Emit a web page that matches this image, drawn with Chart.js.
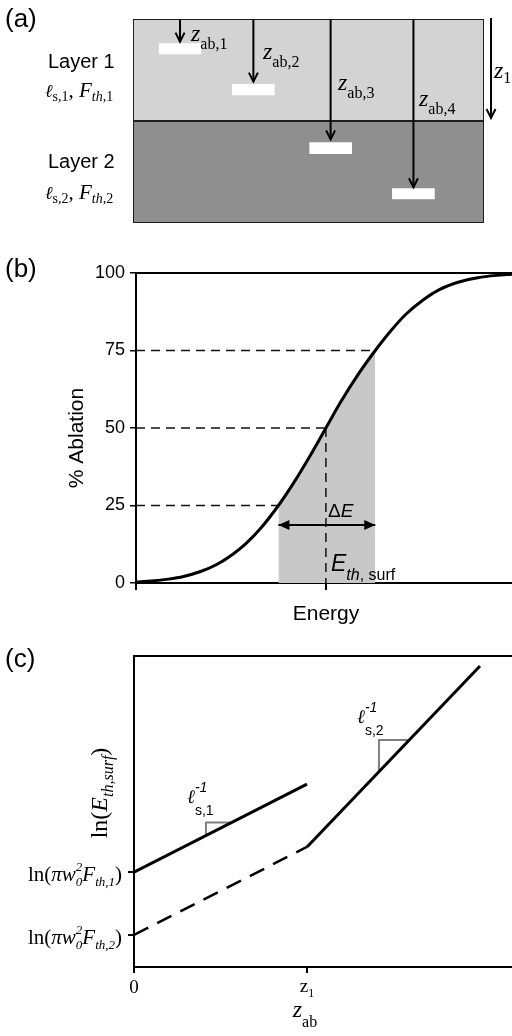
<!DOCTYPE html>
<html>
<head>
<meta charset="utf-8">
<script src="https://cdn.jsdelivr.net/npm/chart.js"></script>
<style>
  html, body { margin: 0; padding: 0; background: #fff; overflow: hidden; width: 512px; height: 1036px; }
  canvas { position: absolute; left: 0; }
</style>
</head>
<body>
<canvas id="chartA" width="512" height="240" style="top:0"></canvas>
<canvas id="chartB" width="512" height="380" style="top:250px"></canvas>
<canvas id="chartC" width="512" height="396" style="top:640px"></canvas>
<script>
// ---- (a) two-layer stack, depth in % of the drawn stack ----
const layerBoundary = 50;          // z1
const stackBottom = 100;
const ablationX = [13.4, 34.3, 56.3, 79.9];
const ablationDepth = [11.1, 30.7, 59.0, 82.5];
const craterTop = [11.9, 31.9, 60.4, 83.0];
const craterBottom = [17.3, 37.4, 66.2, 88.4];
const craterHalfWidth = 6.1;
const z1ArrowX = 102;

// ---- (b) ablation curve ----
const energy = [0, 0.08, 0.17, 0.25, 0.34, 0.42, 0.51, 0.58, 0.66, 0.75, 0.83, 0.92, 1.00,
  1.08, 1.17, 1.26, 1.34, 1.42, 1.51, 1.60, 1.70, 1.80, 1.90, 1.98];
const ablation = [0.35, 0.65, 1.25, 2.1, 3.7, 5.8, 9.3, 12.8, 17.9, 25, 32.3, 41.4, 50,
  58.6, 67.3, 75, 81.2, 86.6, 91.2, 94.7, 97.1, 98.5, 99.25, 99.6];
const yTicksB = [0, 25, 50, 75, 100];
const quartileLevels = [25, 50, 75];
const quartileEnergy = [0.75, 1.00, 1.26];
const eThSurf = 1.00;
const deltaELevel = 18.7;

// ---- (c) ln(E_th,surf) vs z_ab ----
const z1 = 1;
const lnF1 = 3.05, lnF2 = 1.03;
const seg1Z = [0, 1], seg1Ln = [3.05, 5.88];
const seg2Z = [1, 2], seg2Ln = [3.86, 9.68];
const dashZ = [0, 1], dashLn = [1.03, 3.86];
const tri1Z = [0.416, 0.416, 0.566], tri1Ln = [4.23, 4.65, 4.65];
const tri2Z = [1.416, 1.416, 1.59], tri2Ln = [6.28, 7.30, 7.30];

const SANS = '"Liberation Sans", Arial, sans-serif';
const SERIF = '"Liberation Serif", "Times New Roman", serif';
const SCRIPT = '"DejaVu Serif", serif';
const font = (size, fam, style) => (style ? style + ' ' : '') + size + 'px ' + fam;
const pts = (xs, ys) => xs.map((x, i) => ({ x: x, y: ys[i] }));
const NONE = 'rgba(0,0,0,0)';

function drawRich(ctx, item) {
  ctx.save();
  ctx.translate(item.x, item.y);
  if (item.rotate) ctx.rotate(item.rotate);
  ctx.fillStyle = '#000';
  ctx.textBaseline = item.baseline || 'alphabetic';
  ctx.textAlign = 'left';
  let total = 0;
  item.parts.forEach(p => { ctx.font = p.f; p.w = ctx.measureText(p.t).width; if (!p.stay) total += p.w; });
  let x = item.align === 'right' ? -total : item.align === 'center' ? -total / 2 : 0;
  item.parts.forEach(p => {
    ctx.font = p.f;
    ctx.fillText(p.t, x, p.dy || 0);
    if (!p.stay) x += p.w;
  });
  ctx.restore();
}

const textPlugin = items => ({
  id: 'richText',
  afterDraw(chart) { items.forEach(it => drawRich(chart.ctx, it)); }
});

const arrowHeads = {
  id: 'arrowHeads',
  afterDatasetsDraw(chart) {
    const ctx = chart.ctx;
    chart.data.datasets.forEach((ds, i) => {
      if (!ds.arrow) return;
      const p = chart.getDatasetMeta(i).data;
      const heads = [[p[p.length - 1], p[p.length - 2]]];
      if (ds.arrow === 'both') heads.push([p[0], p[1]]);
      heads.forEach(([tip, prev]) => {
        const a = Math.atan2(tip.y - prev.y, tip.x - prev.x);
        const len = ds.headLength, half = ds.headWidth;
        const bx = tip.x - len * Math.cos(a), by = tip.y - len * Math.sin(a);
        const ox = -Math.sin(a) * half, oy = Math.cos(a) * half;
        ctx.save();
        ctx.strokeStyle = ctx.fillStyle = ds.borderColor;
        ctx.lineWidth = ds.borderWidth;
        ctx.beginPath();
        ctx.moveTo(bx + ox, by + oy);
        ctx.lineTo(tip.x, tip.y);
        ctx.lineTo(bx - ox, by - oy);
        if (ds.headFill) { ctx.closePath(); ctx.fill(); } else ctx.stroke();
        ctx.restore();
      });
    });
  }
};

const topBorder = {
  id: 'topBorder',
  afterDatasetsDraw(chart) {
    const { ctx, chartArea: a } = chart;
    ctx.save();
    ctx.strokeStyle = '#000';
    ctx.lineWidth = 2;
    ctx.beginPath();
    ctx.moveTo(a.left - 1, a.top);
    ctx.lineTo(a.right, a.top);
    ctx.stroke();
    ctx.restore();
  }
};

const baseOptions = {
  responsive: false,
  animation: false,
  events: [],
  elements: { point: { radius: 0 }, line: { tension: 0, borderCapStyle: 'butt' } },
  plugins: { legend: { display: false }, tooltip: { enabled: false } }
};

// ---------- (a) ----------
const layerA = [];
layerA.push({ data: pts([0, 100], [0, 0]), fill: { value: layerBoundary }, backgroundColor: '#d3d3d3', borderColor: NONE, borderWidth: 0 });
layerA.push({ data: pts([0, 100], [layerBoundary, layerBoundary]), fill: { value: stackBottom }, backgroundColor: '#8f8f8f', borderColor: NONE, borderWidth: 0 });
ablationX.forEach((x, i) => {
  layerA.push({ data: pts([x - craterHalfWidth, x + craterHalfWidth], [craterTop[i], craterTop[i]]),
    fill: { value: craterBottom[i] }, backgroundColor: '#ffffff', borderColor: NONE, borderWidth: 0 });
});
layerA.push({ data: pts([0, 100, 100, 0, 0], [0, 0, stackBottom, stackBottom, 0]), borderColor: '#1e1e1e', borderWidth: 2, fill: false });
layerA.push({ data: pts([0, 100], [layerBoundary, layerBoundary]), borderColor: '#1e1e1e', borderWidth: 2, fill: false });
ablationX.forEach((x, i) => {
  layerA.push({ data: pts([x, x], [0, ablationDepth[i]]), borderColor: '#000', borderWidth: 2, fill: false,
    arrow: 'end', headLength: 9, headWidth: 4.5 });
});
layerA.push({ data: pts([z1ArrowX, z1ArrowX], [-0.5, layerBoundary - 1.5]), borderColor: '#000', borderWidth: 2, fill: false,
  clip: false, arrow: 'end', headLength: 9, headWidth: 4.5 });

const labelL = n => [
  { t: 'ℓ', f: font(18, SCRIPT, 'italic') },
  { t: 's,' + n, f: font(14, SERIF), dy: 4 },
  { t: ', ', f: font(21, SERIF) },
  { t: 'F', f: font(21, SERIF, 'italic') },
  { t: 'th', f: font(14, SERIF, 'italic'), dy: 4 },
  { t: ',' + n, f: font(14, SERIF), dy: 4 }
];
const zab = n => [{ t: 'z', f: font(24, SERIF, 'italic') }, { t: 'ab,' + n, f: font(16, SERIF), dy: 8 }];
const textA = [
  { x: 5, y: 27, parts: [{ t: '(a)', f: font(26, SANS) }] },
  { x: 48, y: 68, parts: [{ t: 'Layer 1', f: font(20, SANS) }] },
  { x: 45, y: 97, parts: labelL(1) },
  { x: 48, y: 168, parts: [{ t: 'Layer 2', f: font(20, SANS) }] },
  { x: 45, y: 199, parts: labelL(2) },
  { x: 191, y: 41, parts: zab(1) },
  { x: 263, y: 59, parts: zab(2) },
  { x: 338, y: 90, parts: zab(3) },
  { x: 419, y: 106, parts: zab(4) },
  { x: 494, y: 78, parts: [{ t: 'z', f: font(24, SERIF, 'italic') }, { t: '1', f: font(16, SERIF), dy: 5 }] }
];

new Chart(document.getElementById('chartA'), {
  type: 'line',
  data: { datasets: layerA.reverse() },
  options: Object.assign({}, baseOptions, {
    layout: { padding: { left: 133, right: 28, top: 19, bottom: 17 } },
    scales: {
      x: { type: 'linear', min: 0, max: 100, display: false },
      y: { type: 'linear', min: 0, max: stackBottom, reverse: true, display: false }
    }
  }),
  plugins: [arrowHeads, textPlugin(textA)]
});

// ---------- (b) ----------
const e25 = quartileEnergy[0], e75 = quartileEnergy[2];
const shadeIdx = energy.map((e, i) => i).filter(i => energy[i] >= e25 && energy[i] <= e75);
const layerB = [];
layerB.push({ data: shadeIdx.map(i => ({ x: energy[i], y: ablation[i] })), fill: 'origin', backgroundColor: '#c8c8c8',
  borderColor: NONE, borderWidth: 0, cubicInterpolationMode: 'monotone' });
quartileLevels.forEach((lv, i) => {
  layerB.push({ data: pts([0, quartileEnergy[i]], [lv, lv]), borderColor: '#111', borderWidth: 1.5, borderDash: [9, 6], fill: false });
});
layerB.push({ data: pts([eThSurf, eThSurf], [quartileLevels[1], 0]), borderColor: '#111', borderWidth: 1.5, borderDash: [9, 6], fill: false });
layerB.push({ data: pts(energy, ablation), borderColor: '#000', borderWidth: 3, fill: false, cubicInterpolationMode: 'monotone' });
layerB.push({ data: pts([e25, e75], [deltaELevel, deltaELevel]), borderColor: '#000', borderWidth: 2, fill: false,
  arrow: 'both', headFill: true, headLength: 11, headWidth: 5 });

const textB = [
  { x: 5, y: 27, parts: [{ t: '(b)', f: font(26, SANS) }] },
  { x: 77, y: 188, rotate: -Math.PI / 2, align: 'center', baseline: 'middle', parts: [{ t: '% Ablation', f: font(21, SANS) }] },
  { x: 326, y: 370, align: 'center', parts: [{ t: 'Energy', f: font(21, SANS) }] },
  { x: 328, y: 267, parts: [{ t: 'Δ', f: font(19, SANS) }, { t: 'E', f: font(19, SANS, 'italic') }] },
  { x: 331, y: 321, parts: [{ t: 'E', f: font(23, SANS, 'italic') }, { t: 'th', f: font(16, SANS, 'italic'), dy: 9 },
    { t: ', surf', f: font(16, SANS), dy: 9 }] }
];

new Chart(document.getElementById('chartB'), {
  type: 'line',
  data: { datasets: layerB.reverse() },
  options: Object.assign({}, baseOptions, {
    layout: { padding: { left: 0, right: 0, top: 23, bottom: 0 } },
    scales: {
      x: {
        type: 'linear', min: 0, max: energy[energy.length - 1],
        afterBuildTicks: s => { s.ticks = [{ value: 0 }, { value: eThSurf }]; },
        ticks: { display: false },
        grid: { drawOnChartArea: false, tickLength: 7, color: '#000', lineWidth: 2 },
        border: { color: '#000', width: 2 },
        afterFit: s => { s.height = 47; }
      },
      y: {
        type: 'linear', min: 0, max: 100,
        afterBuildTicks: s => { s.ticks = yTicksB.map(v => ({ value: v })); },
        ticks: { color: '#000', font: { family: SANS, size: 18 }, padding: 5 },
        grid: { drawOnChartArea: false, tickLength: 6, color: '#000', lineWidth: 1.5 },
        border: { color: '#000', width: 2 },
        afterFit: s => { s.width = 136; }
      }
    }
  }),
  plugins: [arrowHeads, topBorder, textPlugin(textB)]
});

// ---------- (c) ----------
const layerC = [];
layerC.push({ data: pts(tri1Z, tri1Ln), borderColor: '#7f7f7f', borderWidth: 2, fill: false });
layerC.push({ data: pts(tri2Z, tri2Ln), borderColor: '#7f7f7f', borderWidth: 2, fill: false });
layerC.push({ data: pts(dashZ, dashLn), borderColor: '#000', borderWidth: 2.5, borderDash: [16, 10], fill: false });
layerC.push({ data: pts(seg1Z, seg1Ln), borderColor: '#000', borderWidth: 3, fill: false });
layerC.push({ data: pts(seg2Z, seg2Ln), borderColor: '#000', borderWidth: 3, fill: false });

const lnLabel = n => [
  { t: 'ln(', f: font(21, SERIF) },
  { t: 'π', f: font(21, SERIF, 'italic') },
  { t: 'w', f: font(21, SERIF, 'italic') },
  { t: '2', f: font(13, SERIF, 'italic'), dy: -10, stay: true },
  { t: '0', f: font(13, SERIF, 'italic'), dy: 5 },
  { t: 'F', f: font(21, SERIF, 'italic') },
  { t: 'th,' + n, f: font(13, SERIF, 'italic'), dy: 5 },
  { t: ')', f: font(21, SERIF) }
];
const slopeLabel = n => [
  { t: 'ℓ', f: font(19, SCRIPT, 'italic') },
  { t: '-1', f: font(14, SANS, 'italic'), dy: -11, stay: true },
  { t: 's,' + n, f: font(14, SANS), dy: 12 }
];
const textC = [
  { x: 5, y: 27, parts: [{ t: '(c)', f: font(26, SANS) }] },
  { x: 122, y: 241, align: 'right', parts: lnLabel(1) },
  { x: 122, y: 304, align: 'right', parts: lnLabel(2) },
  { x: 134, y: 353, align: 'center', parts: [{ t: '0', f: font(19, SERIF) }] },
  { x: 307, y: 352, align: 'center', parts: [{ t: 'z', f: font(19, SERIF) }, { t: '1', f: font(12, SERIF), dy: 5 }] },
  { x: 305, y: 377, align: 'center', parts: [{ t: 'z', f: font(24, SERIF, 'italic') }, { t: 'ab', f: font(16, SERIF), dy: 10 }] },
  { x: 107, y: 153, rotate: -Math.PI / 2, align: 'center', parts: [{ t: 'ln(', f: font(24, SERIF) },
    { t: 'E', f: font(24, SERIF, 'italic') }, { t: 'th,surf', f: font(16, SERIF, 'italic'), dy: 6 }, { t: ')', f: font(24, SERIF) }] },
  { x: 187, y: 163, parts: slopeLabel(1) },
  { x: 357, y: 83, parts: slopeLabel(2) }
];

new Chart(document.getElementById('chartC'), {
  type: 'line',
  data: { datasets: layerC.reverse() },
  options: Object.assign({}, baseOptions, {
    layout: { padding: { left: 0, right: 0, top: 16, bottom: 0 } },
    scales: {
      x: {
        type: 'linear', min: 0, max: 2.185,
        afterBuildTicks: s => { s.ticks = [{ value: 0 }, { value: z1 }]; },
        ticks: { display: false },
        grid: { drawOnChartArea: false, tickLength: 6, color: '#000', lineWidth: 2 },
        border: { color: '#000', width: 2 },
        afterFit: s => { s.height = 69; }
      },
      y: {
        type: 'linear', min: 0, max: 10,
        afterBuildTicks: s => { s.ticks = [{ value: lnF2 }, { value: lnF1 }]; },
        ticks: { display: false },
        grid: { drawOnChartArea: false, tickLength: 6, color: '#000', lineWidth: 2 },
        border: { color: '#000', width: 2 },
        afterFit: s => { s.width = 134; }
      }
    }
  }),
  plugins: [arrowHeads, topBorder, textPlugin(textC)]
});
</script>
</body>
</html>
